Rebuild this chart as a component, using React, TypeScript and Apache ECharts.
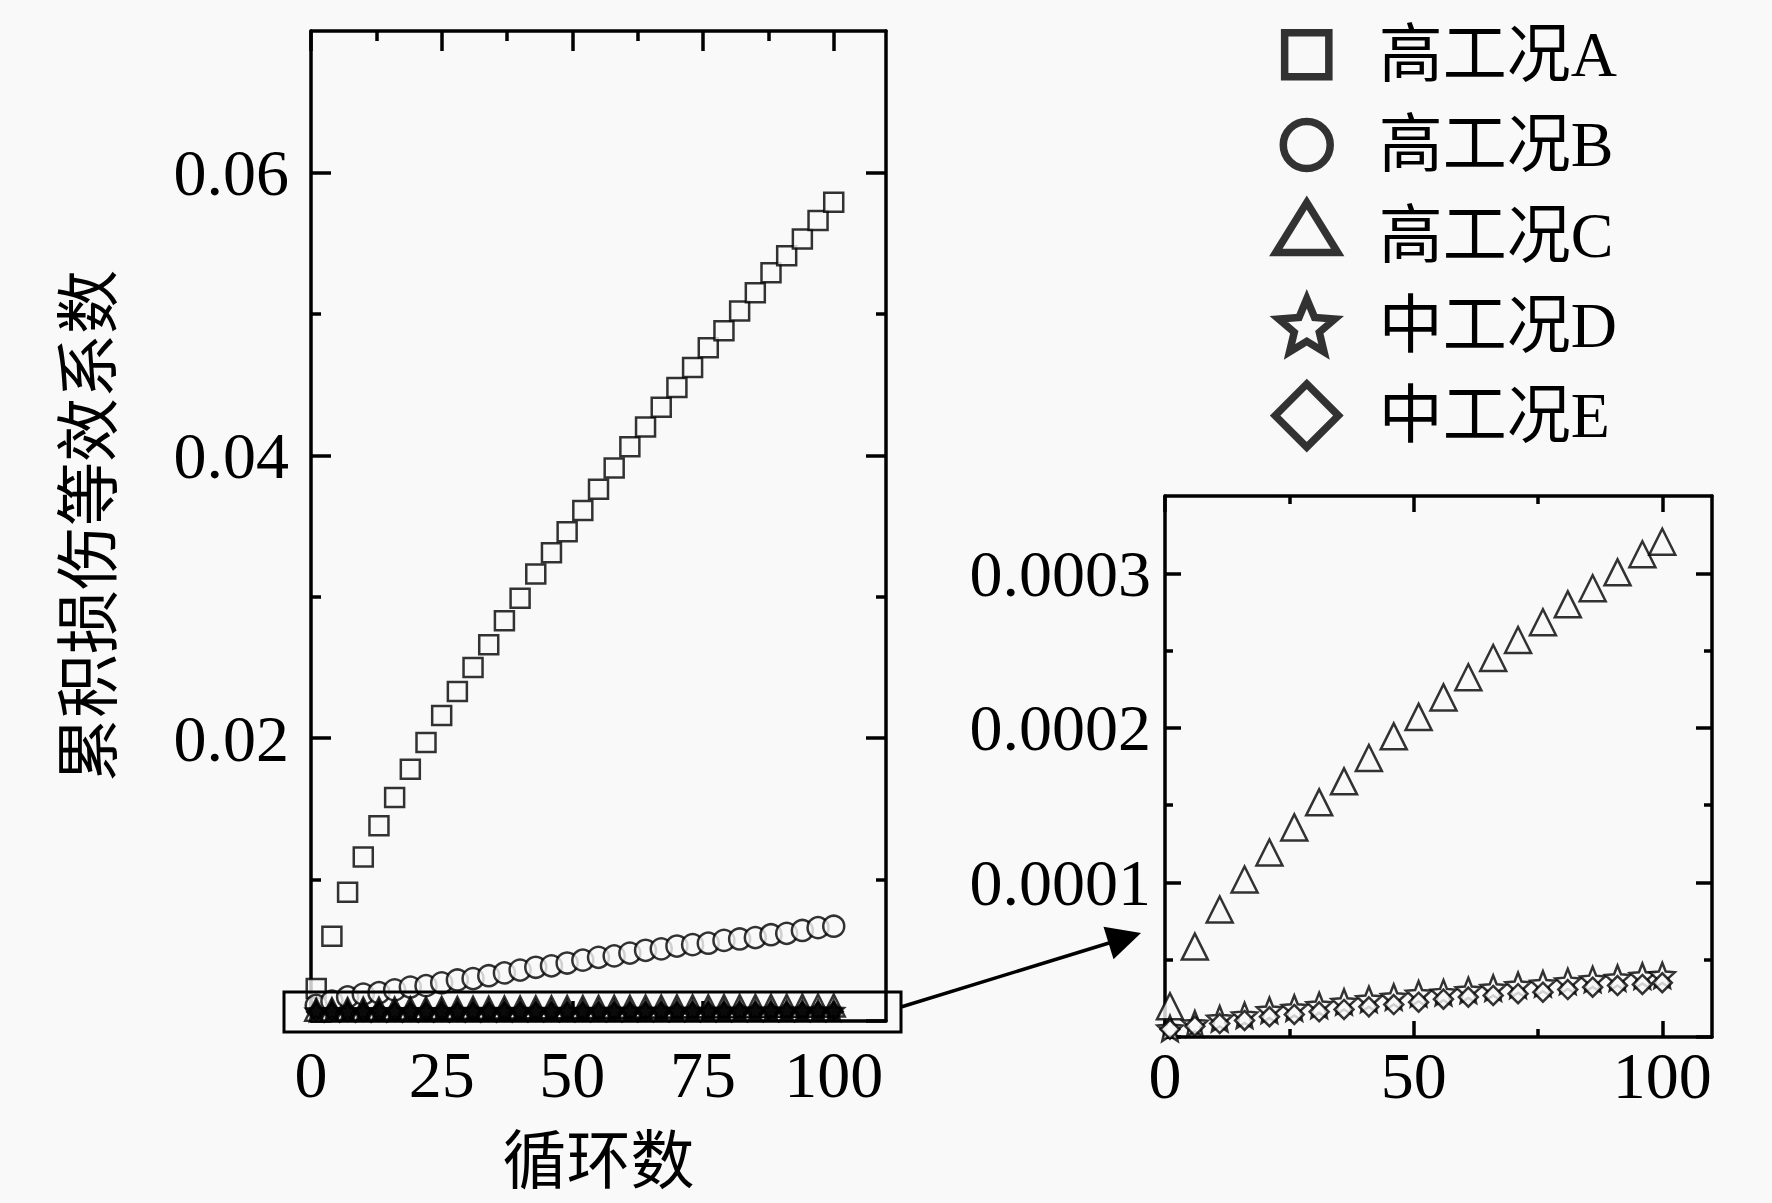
import React, { useEffect, useRef } from "react";
import * as echarts from "echarts";

// ---------- data ----------
const cycles3 = [1, 4, 7, 10, 13, 16, 19, 22, 25, 28, 31, 34, 37, 40, 43, 46, 49, 52, 55, 58, 61, 64, 67, 70, 73, 76, 79, 82, 85, 88, 91, 94, 97, 100];
const cycles5 = [1, 6, 11, 16, 21, 26, 31, 36, 41, 46, 51, 56, 61, 66, 71, 76, 81, 86, 91, 96, 100];

const seriesNames = ["高工况A", "高工况B", "高工况C", "中工况D", "中工况E"];

const valuesA = [0.0023, 0.006, 0.0091, 0.0116, 0.0138, 0.0158, 0.0178, 0.0197, 0.0216, 0.0233, 0.025, 0.0266, 0.0283, 0.0299, 0.0316, 0.0331, 0.0346, 0.0361, 0.0376, 0.0391, 0.0406, 0.042, 0.0434, 0.0448, 0.0462, 0.0476, 0.0488, 0.0502, 0.0515, 0.0529, 0.0541, 0.0553, 0.0566, 0.0579];
const valuesB = [0.0011, 0.0014, 0.0017, 0.0019, 0.002, 0.0022, 0.0024, 0.0025, 0.0027, 0.0029, 0.003, 0.0032, 0.0034, 0.0036, 0.0038, 0.0039, 0.0041, 0.0043, 0.0045, 0.0046, 0.0048, 0.005, 0.0051, 0.0053, 0.0054, 0.0055, 0.0057, 0.0058, 0.0059, 0.0061, 0.0062, 0.0064, 0.0066, 0.0067];
const valuesCMain = [2.0e-5, 4.4e-5, 6.4e-5, 7.8e-5, 9.0e-5, 10.2e-5, 11.3e-5, 12.3e-5, 13.3e-5, 14.2e-5, 15.2e-5, 16.0e-5, 16.8e-5, 17.8e-5, 18.6e-5, 19.5e-5, 20.2e-5, 21.0e-5, 21.7e-5, 22.5e-5, 23.3e-5, 24.0e-5, 24.7e-5, 25.5e-5, 26.1e-5, 26.8e-5, 27.5e-5, 28.2e-5, 28.8e-5, 29.4e-5, 30.0e-5, 30.7e-5, 31.4e-5, 32.0e-5];
const valuesDMain = [0.55e-5, 0.75e-5, 0.92e-5, 1.1e-5, 1.25e-5, 1.4e-5, 1.6e-5, 1.75e-5, 1.85e-5, 1.95e-5, 2.05e-5, 2.2e-5, 2.3e-5, 2.4e-5, 2.5e-5, 2.6e-5, 2.7e-5, 2.8e-5, 2.85e-5, 2.95e-5, 3.05e-5, 3.1e-5, 3.2e-5, 3.3e-5, 3.4e-5, 3.45e-5, 3.55e-5, 3.65e-5, 3.7e-5, 3.75e-5, 3.8e-5, 3.9e-5, 3.95e-5, 4.0e-5];
const valuesEMain = [0.5e-5, 0.6e-5, 0.75e-5, 0.85e-5, 0.95e-5, 1.07e-5, 1.2e-5, 1.35e-5, 1.45e-5, 1.55e-5, 1.65e-5, 1.75e-5, 1.8e-5, 1.9e-5, 2.0e-5, 2.1e-5, 2.2e-5, 2.3e-5, 2.4e-5, 2.5e-5, 2.6e-5, 2.65e-5, 2.7e-5, 2.8e-5, 2.85e-5, 2.9e-5, 3.0e-5, 3.1e-5, 3.2e-5, 3.25e-5, 3.3e-5, 3.35e-5, 3.4e-5, 3.5e-5];

const valuesCInset = [1.99e-5, 5.85e-5, 8.25e-5, 10.19e-5, 11.94e-5, 13.56e-5, 15.18e-5, 16.54e-5, 18.05e-5, 19.45e-5, 20.71e-5, 21.97e-5, 23.27e-5, 24.52e-5, 25.68e-5, 26.83e-5, 27.99e-5, 29.03e-5, 30.06e-5, 31.23e-5, 32.04e-5];
const valuesDInset = [0.55e-5, 0.86e-5, 1.18e-5, 1.4e-5, 1.73e-5, 1.88e-5, 2.05e-5, 2.27e-5, 2.44e-5, 2.59e-5, 2.8e-5, 2.87e-5, 3.02e-5, 3.17e-5, 3.35e-5, 3.45e-5, 3.6e-5, 3.73e-5, 3.82e-5, 3.95e-5, 3.99e-5];
const valuesEInset = [0.5e-5, 0.7e-5, 0.87e-5, 1.07e-5, 1.31e-5, 1.46e-5, 1.63e-5, 1.78e-5, 1.95e-5, 2.1e-5, 2.25e-5, 2.45e-5, 2.58e-5, 2.69e-5, 2.8e-5, 2.9e-5, 3.07e-5, 3.22e-5, 3.33e-5, 3.4e-5, 3.51e-5];

// tick positions
const mainXMajor = [0, 25, 50, 75, 100];
const mainXMinor = [12.5, 37.5, 62.5, 87.5];
const mainYLabels = [0.02, 0.04, 0.06];
const mainYMajor = [0, 0.02, 0.04, 0.06];
const mainYMinor = [0.01, 0.03, 0.05];
const insetXMajor = [0, 50, 100];
const insetXMinor = [25, 75];
const insetYLabels = [0.0001, 0.0002, 0.0003];
const insetYMajor = [0, 0.0001, 0.0002, 0.0003];
const insetYMinor = [0.00005, 0.00015, 0.00025];

const xAxisTitle = "循环数";
const yAxisTitle = "累积损伤等效系数";

// ---------- style ----------
const FONT = "'Liberation Serif', 'Times New Roman', 'Noto Sans CJK SC', serif";
const BG = "#f9f9f9";
const STAR = "path://M100,0 L126.45,63.6 L195.11,69.1 L142.8,113.9 L158.78,180.9 L100,145 L41.22,180.9 L57.2,113.9 L4.89,69.1 L73.55,63.6 Z";
// legend icons: 100x100 frame (zero-length corner marks fix the frame) so each icon keeps its own size
const FRAME = "M0,0 L0,0 M100,100 L100,100 ";
const LEGEND_ICONS = [
  "path://" + FRAME + "M17.5,17.5 L82.5,17.5 L82.5,82.5 L17.5,82.5 Z",
  "path://" + FRAME + "M84.5,50 A34.5,34.5 0 1,1 15.5,50 A34.5,34.5 0 1,1 84.5,50 Z",
  "path://" + FRAME + "M50,2 L95.5,75.5 L4.5,75.5 Z",
  "path://" + FRAME + "M50.06,11 L61.48,38.45 L91.11,40.82 L68.53,60.16 L75.43,89.08 L50.06,73.58 L24.69,89.08 L31.59,60.16 L9.01,40.82 L38.64,38.45 Z",
  "path://" + FRAME + "M50,3.5 L96.5,50 L50,96.5 L3.5,50 Z",
];

const pairs = (xs: number[], ys: number[]) => xs.map((x, i) => [x, ys[i]]);

function axisSet(dim: "x" | "y", grid: number, min: number, max: number, major: number[], minor: number[], labels: number[], majLen: number, minLen: number, fmt: (v: number) => string, labelMargin: number, extra: any = {}) {
  const lw = 3.5;
  const base = { type: "value", gridIndex: grid, min, max, splitLine: { show: false } };
  const pos1 = dim === "x" ? "bottom" : "left";
  const pos2 = dim === "x" ? "top" : "right";
  const mk = (position: string, vals: number[], len: number, showLine: boolean, withLabels: boolean) => ({
    ...base,
    position,
    axisLine: { show: showLine, onZero: false, lineStyle: { color: "#000", width: lw } },
    axisTick: { show: true, inside: true, length: len, customValues: vals, lineStyle: { color: "#000", width: lw } },
    axisLabel: withLabels
      ? { show: true, customValues: labels, formatter: fmt, fontSize: 66, fontFamily: FONT, color: "#000", margin: labelMargin }
      : { show: false },
  });
  return [
    { ...mk(pos1, major, majLen, true, true), ...extra },
    mk(pos1, minor, minLen, false, false),
    mk(pos2, major, majLen, true, false),
    mk(pos2, minor, minLen, false, false),
  ];
}

export default function App() {
  const ref = useRef<HTMLDivElement>(null);
  useEffect(() => {
    if (!ref.current) return;
    const chart = echarts.init(ref.current, undefined, { renderer: "svg" });

    const markerStyle = (bw: number, fill: string = BG) => ({ color: fill, borderColor: "#000", borderWidth: bw });
    const legendStyle = { color: BG, borderColor: "#000", borderWidth: 7.5 };

    const xAxes = [
      ...axisSet("x", 0, 0, 110, mainXMajor, mainXMinor, mainXMajor, 20, 10, (v) => String(v), 20, {
        name: xAxisTitle,
        nameLocation: "middle",
        nameGap: 108,
        nameTextStyle: { fontSize: 64, fontFamily: FONT, color: "#000" },
      }),
      ...axisSet("x", 1, 0, 110, insetXMajor, insetXMinor, insetXMajor, 16, 8, (v) => String(v), 5),
    ];
    const yAxes = [
      ...axisSet("y", 0, 0, 0.07, mainYMajor, mainYMinor, mainYLabels, 20, 10, (v) => v.toFixed(2), 22, {
        name: yAxisTitle,
        nameLocation: "middle",
        nameRotate: 90,
        nameGap: 190,
        nameTextStyle: { fontSize: 64, fontFamily: FONT, color: "#000" },
      }),
      ...axisSet("y", 1, 0, 0.00035, insetYMajor, insetYMinor, insetYLabels, 16, 8, (v) => v.toFixed(4), 14),
    ];

    const bandOffset = [0, "-50%"];

    const option: any = {
      animation: false,
      backgroundColor: BG,
      grid: [
        { left: 311, top: 31, width: 575, height: 990 },
        { left: 1165, top: 496, width: 547, height: 541 },
      ],
      legend: {
        orient: "vertical",
        left: 1264,
        top: 12,
        itemWidth: 68,
        itemHeight: 68,
        itemGap: 14.7,
        symbolKeepAspect: true,
        selectedMode: false,
        data: seriesNames.map((name, i) => ({ name, icon: LEGEND_ICONS[i], itemStyle: legendStyle })),
        itemStyle: legendStyle,
        textStyle: { fontSize: 64, fontFamily: FONT, color: "#000", lineHeight: 64, padding: [0, 0, 0, 33] },
      },
      xAxis: xAxes,
      yAxis: yAxes,
      series: [
        // inset (zoomed) panel
        { name: seriesNames[2], type: "scatter", xAxisIndex: 4, yAxisIndex: 4, symbol: "triangle", symbolSize: 26, itemStyle: markerStyle(2.5), data: pairs(cycles5, valuesCInset) },
        { name: seriesNames[3], type: "scatter", xAxisIndex: 4, yAxisIndex: 4, symbol: STAR, symbolSize: 25, itemStyle: markerStyle(2.5), data: pairs(cycles5, valuesDInset) },
        { name: seriesNames[4], type: "scatter", xAxisIndex: 4, yAxisIndex: 4, symbol: "diamond", symbolSize: 19, itemStyle: markerStyle(2.5), data: pairs(cycles5, valuesEInset) },
        // main panel
        { name: seriesNames[0], type: "scatter", xAxisIndex: 0, yAxisIndex: 0, symbol: "rect", symbolSize: 19, itemStyle: markerStyle(2.5), data: pairs(cycles3, valuesA) },
        { name: seriesNames[1], type: "scatter", xAxisIndex: 0, yAxisIndex: 0, symbol: "circle", symbolSize: 21, itemStyle: markerStyle(2.5), data: pairs(cycles3, valuesB) },
        { name: seriesNames[2], type: "scatter", xAxisIndex: 0, yAxisIndex: 0, symbol: "triangle", symbolSize: 22, symbolOffset: bandOffset, itemStyle: markerStyle(2.5), data: pairs(cycles3, valuesCMain) },
        { name: seriesNames[3], type: "scatter", xAxisIndex: 0, yAxisIndex: 0, symbol: STAR, symbolSize: 20, symbolOffset: bandOffset, itemStyle: markerStyle(2.5, "#000"), data: pairs(cycles3, valuesDMain) },
        { name: seriesNames[4], type: "scatter", xAxisIndex: 0, yAxisIndex: 0, symbol: "diamond", symbolSize: 18, symbolOffset: bandOffset, itemStyle: markerStyle(2.5, "#000"), data: pairs(cycles3, valuesEMain) },
      ],
      graphic: [
        { type: "rect", shape: { x: 284, y: 992, width: 617, height: 40 }, style: { fill: "none", stroke: "#000", lineWidth: 3 }, z: 100 },
        { type: "line", shape: { x1: 901, y1: 1007, x2: 1109, y2: 943 }, style: { stroke: "#000", lineWidth: 3.5 }, z: 100 },
        { type: "polygon", shape: { points: [[1141, 933], [1113.5, 959.2], [1103.5, 926.8]] }, style: { fill: "#000" }, z: 100 },
      ],
    };
    chart.setOption(option);
    return () => chart.dispose();
  }, []);
  return <div ref={ref} style={{ position: "fixed", left: 0, top: 0, width: 1772, height: 1203 }} />;
}
